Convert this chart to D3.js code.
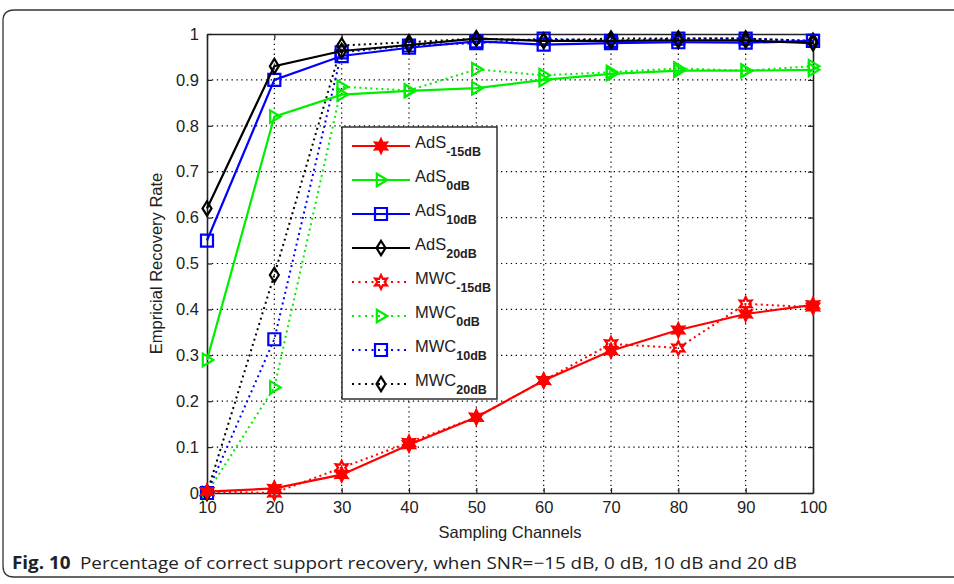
<!DOCTYPE html>
<html>
<head>
<meta charset="utf-8">
<script src="https://cdn.jsdelivr.net/npm/d3@7"></script>
<style>
  html, body { margin: 0; padding: 0; background: #fff; }
  svg { display: block; }
</style>
</head>
<body>
<svg id="chart" width="954" height="584"></svg>
<script>
// Sampling channels on the x axis
const channels = [10, 20, 30, 40, 50, 60, 70, 80, 90, 100];

// Empirical recovery rate, AdS method
const adsM15 = [0.003, 0.01, 0.04, 0.105, 0.165, 0.245, 0.31, 0.355, 0.39, 0.41];
const ads0   = [0.29, 0.82, 0.868, 0.876, 0.882, 0.9, 0.913, 0.92, 0.92, 0.922];
const ads10  = [0.55, 0.9, 0.952, 0.97, 0.984, 0.977, 0.98, 0.982, 0.981, 0.985];
const ads20  = [0.62, 0.93, 0.963, 0.976, 0.99, 0.985, 0.985, 0.986, 0.986, 0.98];

// Empirical recovery rate, MWC method
const mwcM15 = [0.003, 0.0, 0.055, 0.11, 0.165, 0.245, 0.325, 0.316, 0.412, 0.405];
const mwc0   = [0.0, 0.23, 0.885, 0.877, 0.923, 0.91, 0.917, 0.925, 0.92, 0.93];
const mwc10  = [0.0, 0.335, 0.96, 0.975, 0.98, 0.99, 0.985, 0.99, 0.99, 0.985];
const mwc20  = [0.0, 0.475, 0.975, 0.982, 0.99, 0.986, 0.99, 0.99, 0.99, 0.985];

const xTicks = [10, 20, 30, 40, 50, 60, 70, 80, 90, 100];
const yTicks = [0, 0.1, 0.2, 0.3, 0.4, 0.5, 0.6, 0.7, 0.8, 0.9, 1];

const seriesDefs = [
  { name: "AdS", sub: "-15dB", values: adsM15, color: "#ff0000", dotted: false, marker: "star" },
  { name: "AdS", sub: "0dB",   values: ads0,   color: "#00ee00", dotted: false, marker: "tri" },
  { name: "AdS", sub: "10dB",  values: ads10,  color: "#0000ff", dotted: false, marker: "square" },
  { name: "AdS", sub: "20dB",  values: ads20,  color: "#000000", dotted: false, marker: "diamond" },
  { name: "MWC", sub: "-15dB", values: mwcM15, color: "#ff0000", dotted: true,  marker: "star" },
  { name: "MWC", sub: "0dB",   values: mwc0,   color: "#00ee00", dotted: true,  marker: "tri" },
  { name: "MWC", sub: "10dB",  values: mwc10,  color: "#0000ff", dotted: true,  marker: "square" },
  { name: "MWC", sub: "20dB",  values: mwc20,  color: "#000000", dotted: true,  marker: "diamond" }
];

const svg = d3.select("#chart");
const W = 954, H = 584;

// Figure frame with rounded left corners, open past the right edge
svg.append("path")
  .attr("d", `M${W + 5},10 L14,10 Q3,10 3,21 L3,566 Q3,577 14,577 L${W + 5},577`)
  .attr("fill", "none")
  .attr("stroke", "#333")
  .attr("stroke-width", 1.3);

const plotLeft = 207, plotRight = 813, plotTop = 34, plotBottom = 493;

const x = d3.scaleLinear().domain([10, 100]).range([plotLeft, plotRight]);
const y = d3.scaleLinear().domain([0, 1]).range([plotBottom, plotTop]);

const g = svg.append("g");

// Dotted grid
g.append("g")
  .selectAll("line")
  .data(xTicks.slice(1, -1))
  .join("line")
  .attr("x1", d => x(d)).attr("x2", d => x(d))
  .attr("y1", plotTop).attr("y2", plotBottom)
  .attr("stroke", "#000").attr("stroke-width", 1.2)
  .attr("stroke-dasharray", "1.3,3.6");
g.append("g")
  .selectAll("line")
  .data(yTicks.slice(1, -1))
  .join("line")
  .attr("x1", plotLeft).attr("x2", plotRight)
  .attr("y1", d => y(d)).attr("y2", d => y(d))
  .attr("stroke", "#000").attr("stroke-width", 1.2)
  .attr("stroke-dasharray", "1.3,3.6");

// Axes (bottom/left labelled, top/right mirrored) with inward ticks
const fmt = d => d === 0 || d === 1 ? String(d) : d3.format(".1f")(d);
const axisFont = "Liberation Sans, Arial, sans-serif";

const xAxis = g.append("g").attr("transform", `translate(0,${plotBottom})`)
  .call(d3.axisBottom(x).tickValues(xTicks).tickSizeInner(-5).tickSizeOuter(0).tickPadding(8));
const xAxisTop = g.append("g").attr("transform", `translate(0,${plotTop})`)
  .call(d3.axisTop(x).tickValues(xTicks).tickSizeInner(-5).tickSizeOuter(0).tickFormat(""));
const yAxis = g.append("g").attr("transform", `translate(${plotLeft},0)`)
  .call(d3.axisLeft(y).tickValues(yTicks).tickFormat(fmt).tickSizeInner(-5).tickSizeOuter(0).tickPadding(8));
const yAxisRight = g.append("g").attr("transform", `translate(${plotRight},0)`)
  .call(d3.axisRight(y).tickValues(yTicks).tickSizeInner(-5).tickSizeOuter(0).tickFormat(""));

[xAxis, xAxisTop, yAxis, yAxisRight].forEach(a => {
  a.select(".domain").attr("stroke", "#222").attr("stroke-width", 1.6);
  a.selectAll(".tick line").attr("stroke", "#222").attr("stroke-width", 1.2);
  a.selectAll("text").attr("font-family", axisFont).attr("font-size", 16.5).attr("fill", "#222");
});

// Series lines
const line = d3.line().x((d, i) => x(channels[i])).y(d => y(d));

function markerPath(type, s) {
  if (type === "square") {
    return `M${-s},${-s}H${s}V${s}H${-s}Z`;
  }
  if (type === "tri") {
    return `M${-s * 0.7},${-s * 1.05}L${s * 1.05},0L${-s * 0.7},${s * 1.05}Z`;
  }
  if (type === "diamond") {
    return `M0,${-s * 1.2}L${s * 0.75},0L0,${s * 1.2}L${-s * 0.75},0Z`;
  }
  // six-pointed star
  const pts = [];
  for (let k = 0; k < 12; k++) {
    const r = k % 2 === 0 ? s * 1.15 : s * 0.6;
    const a = Math.PI / 6 * k - Math.PI / 2;
    pts.push([r * Math.cos(a), r * Math.sin(a)]);
  }
  return "M" + pts.map(p => p.join(",")).join("L") + "Z";
}

function drawMarker(sel, def, cx, cy, s) {
  const filled = def.marker === "star" && !def.dotted;
  sel.append("path")
    .attr("d", markerPath(def.marker, s))
    .attr("transform", `translate(${cx},${cy})`)
    .attr("fill", filled ? def.color : "none")
    .attr("stroke", def.color)
    .attr("stroke-width", 2.2);
}

const plot = g.append("g");
// Dotted MWC curves first, solid AdS curves above
const order = [4, 5, 6, 7, 0, 1, 2, 3];
order.forEach(i => {
  const def = seriesDefs[i];
  plot.append("path")
    .datum(def.values)
    .attr("d", line)
    .attr("fill", "none")
    .attr("stroke", def.color)
    .attr("stroke-width", def.dotted ? 2 : 2.2)
    .attr("stroke-dasharray", def.dotted ? "2,3.5" : null);
  def.values.forEach((v, j) => drawMarker(plot, def, x(channels[j]), y(v), 6));
});

// Legend
const lx = 342, ly = 127, lw = 155, lh = 272;
const leg = g.append("g");
leg.append("rect")
  .attr("x", lx).attr("y", ly).attr("width", lw).attr("height", lh)
  .attr("fill", "#fff").attr("stroke", "#222").attr("stroke-width", 1.4);
seriesDefs.forEach((def, i) => {
  const cy = ly + 19 + i * 34;
  leg.append("line")
    .attr("x1", lx + 10).attr("x2", lx + 68)
    .attr("y1", cy).attr("y2", cy)
    .attr("stroke", def.color)
    .attr("stroke-width", def.dotted ? 2 : 2.2)
    .attr("stroke-dasharray", def.dotted ? "2,4.5" : null);
  drawMarker(leg, def, lx + 39, cy, 6);
  const t = leg.append("text")
    .attr("x", lx + 73).attr("y", cy + 2)
    .attr("font-family", axisFont).attr("font-size", 16.5).attr("fill", "#222");
  t.append("tspan").text(def.name);
  t.append("tspan").attr("dy", 8).attr("font-size", 12.5).attr("font-weight", "bold").text(def.sub);
});

// Axis titles
svg.append("text")
  .attr("x", (plotLeft + plotRight) / 2).attr("y", 538)
  .attr("text-anchor", "middle")
  .attr("font-family", axisFont).attr("font-size", 16.5).attr("fill", "#222")
  .text("Sampling Channels");
svg.append("text")
  .attr("transform", `translate(162,${(plotTop + plotBottom) / 2}) rotate(-90)`)
  .attr("text-anchor", "middle")
  .attr("font-family", axisFont).attr("font-size", 16.5).attr("fill", "#222")
  .text("Empricial Recovery Rate");

// Figure caption
const cap = svg.append("text")
  .attr("x", 12).attr("y", 569)
  .attr("font-family", "Open Sans, Noto Sans, sans-serif").attr("font-size", 17).attr("fill", "#222")
  .attr("textLength", 785).attr("lengthAdjust", "spacingAndGlyphs");
cap.append("tspan").attr("font-weight", "bold").text("Fig. 10");
cap.append("tspan").text("\u2002Percentage of correct support recovery, when SNR=\u221215 dB, 0 dB, 10 dB and 20 dB");
</script>
</body>
</html>
